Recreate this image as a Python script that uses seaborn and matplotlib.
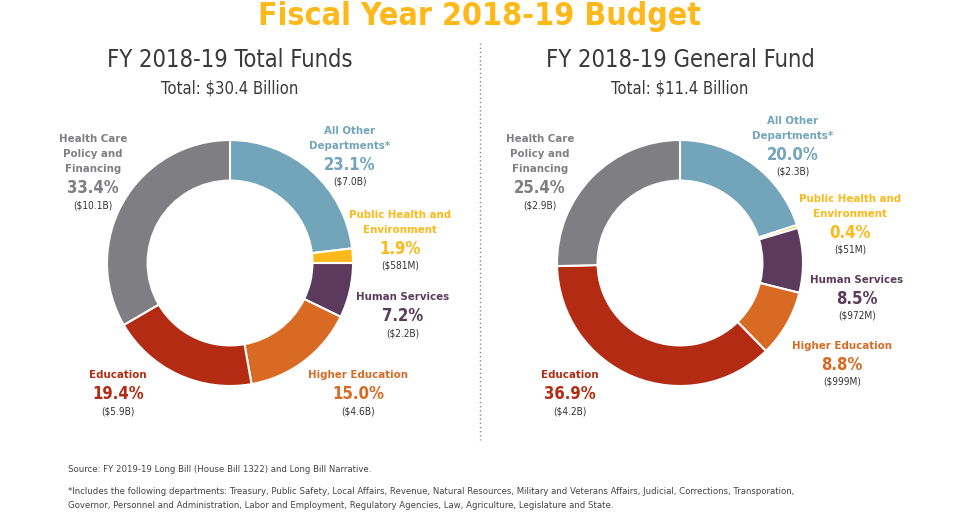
import matplotlib
matplotlib.use("Agg")
import matplotlib.pyplot as plt
import seaborn as sns

# clockwise from 12 o'clock
departments = ["All Other Departments*", "Public Health and Environment", "Human Services",
               "Higher Education", "Education", "Health Care Policy and Financing"]
total_pct = [23.1, 1.9, 7.2, 15.0, 19.4, 33.4]
total_amt = ["($7.0B)", "($581M)", "($2.2B)", "($4.6B)", "($5.9B)", "($10.1B)"]
general_pct = [20.0, 0.4, 8.5, 8.8, 36.9, 25.4]
general_amt = ["($2.3B)", "($51M)", "($972M)", "($999M)", "($4.2B)", "($2.9B)"]
label_lines = [["All Other", "Departments*"], ["Public Health and", "Environment"],
               ["Human Services"], ["Higher Education"], ["Education"],
               ["Health Care", "Policy and", "Financing"]]
palette = ["#73a5ba", "#fdb91a", "#5c3a5e", "#d86a24", "#b32b12", "#7f7f83"]

sns.set_theme(style="white")
plt.rcParams["font.family"] = ["DejaVu Sans"]
plt.rcParams["font.stretch"] = "condensed"

W, H = 960, 512
fig = plt.figure(figsize=(9.6, 5.12), dpi=100)
fig.patch.set_facecolor("white")


def fx(x):
    return x / W


def fy(y):
    return 1 - y / H


def donut(cx, cy, r, values):
    ax = fig.add_axes([fx(cx - r), fy(cy + r), 2 * r / W, 2 * r / H])
    ax.pie(values, colors=palette, startangle=90, counterclock=False, radius=1,
           wedgeprops=dict(width=0.33, edgecolor="white", linewidth=1.5))
    ax.set_xlim(-1, 1)
    ax.set_ylim(-1, 1)
    ax.set_aspect("equal")
    ax.axis("off")
    return ax


donut(230, 263, 123, total_pct)
donut(680, 263, 123, general_pct)

# label anchors: (x, y of first line)
left_pos = [(350, 131), (400, 215), (403, 297), (358, 375), (118, 375), (93, 139)]
right_pos = [(793, 121), (850, 199), (857, 280), (842, 346), (570, 375), (540, 139)]


def labels(positions, pcts, amts):
    for lines, (x, y), p, a, c in zip(label_lines, positions, pcts, amts, palette):
        for i, ln in enumerate(lines):
            fig.text(fx(x), fy(y + 15 * i), ln, color=c, fontsize=8.2, fontweight="bold",
                     ha="center", va="center")
        yp = y + 15 * (len(lines) - 1) + 19
        fig.text(fx(x), fy(yp), f"{p:.1f}%", color=c, fontsize=12, fontweight="bold",
                 ha="center", va="center")
        fig.text(fx(x), fy(yp + 17), a, color="#333333", fontsize=7.3,
                 ha="center", va="center")


labels(left_pos, total_pct, total_amt)
labels(right_pos, general_pct, general_amt)

fig.text(0.5, fy(17), "Fiscal Year 2018-19 Budget", color="#fdb91a", fontsize=23,
         fontweight="bold", ha="center", va="center")
fig.text(fx(230), fy(60), "FY 2018-19 Total Funds", color="#3a3a3a", fontsize=17,
         ha="center", va="center")
fig.text(fx(230), fy(88), "Total: $30.4 Billion", color="#3a3a3a", fontsize=12,
         ha="center", va="center")
fig.text(fx(680), fy(60), "FY 2018-19 General Fund", color="#3a3a3a", fontsize=17,
         ha="center", va="center")
fig.text(fx(680), fy(88), "Total: $11.4 Billion", color="#3a3a3a", fontsize=12,
         ha="center", va="center")

fig.add_artist(plt.Line2D([0.5, 0.5], [fy(43), fy(440)], color="#888888",
                          linewidth=1, linestyle=(0, (1, 2))))

fig.text(fx(68), fy(469), "Source: FY 2019-19 Long Bill (House Bill 1322) and Long Bill Narrative.",
         color="#444444", fontsize=6.8, ha="left", va="center")
fig.text(fx(68), fy(491),
         "*Includes the following departments: Treasury, Public Safety, Local Affairs, Revenue, "
         "Natural Resources, Military and Veterans Affairs, Judicial, Corrections, Transporation,",
         color="#444444", fontsize=6.8, ha="left", va="center")
fig.text(fx(68), fy(506),
         "Governor, Personnel and Administration, Labor and Employment, Regulatory Agencies, Law, "
         "Agriculture, Legislature and State.",
         color="#444444", fontsize=6.8, ha="left", va="center")

fig.savefig("out.png", dpi=100, facecolor="white")
